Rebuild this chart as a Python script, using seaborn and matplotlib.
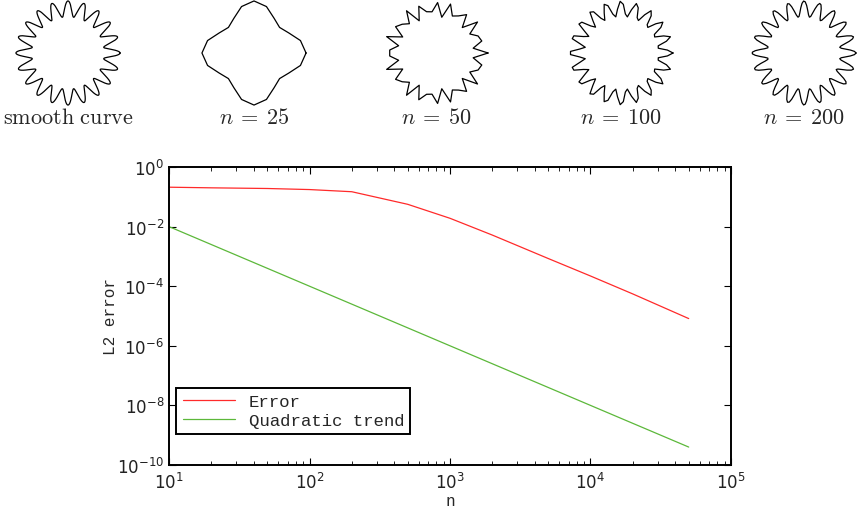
import numpy as np
import pandas as pd
import matplotlib
matplotlib.use("Agg")
import matplotlib.pyplot as plt
import seaborn as sns

# convergence data
n_vals = [10, 20, 50, 100, 200, 500, 1000, 2000, 5000, 10000, 20000, 50000]
error_vals = [0.21, 0.20, 0.19, 0.175, 0.148, 0.056, 0.019, 0.0052,
              8.5e-4, 2.2e-4, 5.5e-5, 8.2e-6]
quad_vals = [1e-2, 2.5e-3, 4e-4, 1e-4, 2.5e-5, 4e-6, 1e-6, 2.5e-7,
             4e-8, 1e-8, 2.5e-9, 4e-10]

# star-shaped test curve r = 1 + amp*cos(lobes*theta)
lobes = 20
amp = 0.18
sample_counts = [None, 25, 50, 100, 200]
shape_labels = [r"$\mathrm{smooth\ curve}$", r"$n\:=\:25$", r"$n\:=\:50$",
                r"$n\:=\:100$", r"$n\:=\:200$"]
shape_centers = [68, 254, 436, 621, 804]

sns.set_style("ticks")
plt.rcParams["font.family"] = ["DejaVu Sans"]
plt.rcParams["mathtext.fontset"] = "cm"

W, H = 861, 510
fig = plt.figure(figsize=(W / 100, H / 100), dpi=100)

# top row: the curve and its polygon approximations
half = 60
lim = 1.36
for cx, cnt, lab in zip(shape_centers, sample_counts, shape_labels):
    ax = fig.add_axes([(cx - half) / W, (H - 54 - half) / H,
                       2 * half / W, 2 * half / H])
    if cnt is None:
        t = np.linspace(0, 2 * np.pi, 2000)
    else:
        t = np.linspace(0, 2 * np.pi, cnt)
    r = 1 + amp * np.cos(lobes * t)
    sns.lineplot(x=r * np.cos(t), y=r * np.sin(t), sort=False,
                 estimator=None, color="black", lw=0.9, ax=ax)
    ax.set_xlim(-lim, lim)
    ax.set_ylim(-lim, lim)
    ax.axis("off")
    fig.text(cx / W, 1 - 118 / H, lab, ha="center", va="center", fontsize=16)

# main log-log plot
df = pd.DataFrame({"n": n_vals * 2,
                   "value": error_vals + quad_vals,
                   "series": ["Error"] * len(n_vals) + ["Quadratic trend"] * len(n_vals)})

ax = fig.add_axes([169 / W, 44 / H, 562 / W, 298 / H])
sns.lineplot(data=df, x="n", y="value", hue="series",
             palette={"Error": "#ff2a2a", "Quadratic trend": "#5cb83a"},
             lw=0.9, ax=ax)
ax.set_xscale("log")
ax.set_yscale("log")
ax.set_xlim(10, 1e5)
ax.set_ylim(1e-10, 1)
ax.set_yticks([1e0, 1e-2, 1e-4, 1e-6, 1e-8, 1e-10])
ax.yaxis.set_minor_locator(matplotlib.ticker.NullLocator())
ax.tick_params(which="both", direction="in", top=True, right=True,
               labelsize=12, color="black", labelcolor="#222222")
ax.tick_params(which="major", length=5)
ax.tick_params(which="minor", length=3)
ax.tick_params(axis="x", which="major", pad=5)
for s in ax.spines.values():
    s.set_linewidth(1.4)
    s.set_color("black")

mono = "Liberation Mono"
ax.set_xlabel("n", family=mono, fontsize=11.5, labelpad=1)
ax.set_ylabel("L2 error", family=mono, fontsize=11.5, labelpad=-1)

leg = ax.legend(loc="lower left", bbox_to_anchor=(0.004, 0.085), title=None,
                prop={"family": mono, "size": 12.5}, fancybox=False,
                framealpha=1, edgecolor="black", handlelength=3,
                borderaxespad=0.3, labelspacing=0.25, borderpad=0.35)
leg.get_frame().set_linewidth(1.4)

fig.savefig("out.png", dpi=100)
